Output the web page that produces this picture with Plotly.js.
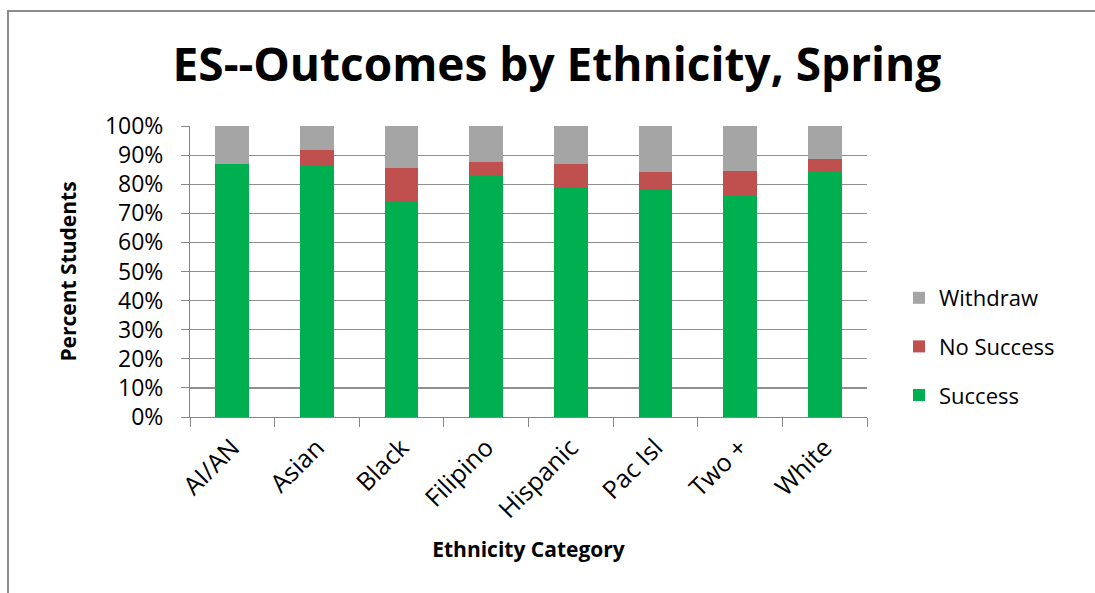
<!DOCTYPE html>
<html>
<head>
<meta charset="utf-8">
<script src="https://cdn.plot.ly/plotly-3.0.1.min.js"></script>
<style>
html,body{margin:0;padding:0;background:#fff;overflow:hidden;}
#wrap{position:relative;width:1095px;height:593px;overflow:hidden;}
#frame{position:absolute;left:7px;top:10px;width:1200px;height:700px;border-left:2px solid #8c8c8c;border-top:2px solid #8c8c8c;}
#chart{position:absolute;left:0;top:0;width:1095px;height:593px;}
</style>
</head>
<body>
<div id="wrap"><div id="frame"></div><div id="chart"></div></div>
<script>
const categories = ["AI/AN", "Asian", "Black", "Filipino", "Hispanic", "Pac Isl", "Two +", "White"];
const success    = [87.1, 86.7, 73.9, 82.8, 79.2, 78.3, 76.1, 84.2];
const noSuccess  = [0.0, 4.9, 11.8, 4.7, 7.8, 6.0, 8.6, 4.6];
const withdraw   = [12.9, 8.4, 14.3, 12.5, 13.0, 15.7, 15.3, 11.2];
const yTickVals  = [0, 10, 20, 30, 40, 50, 60, 70, 80, 90, 100];
const yTickText  = ["0%", "10%", "20%", "30%", "40%", "50%", "60%", "70%", "80%", "90%", "100%"];

const FONT = "Open Sans, Calibri, Carlito, sans-serif";

const traces = [
  {type: "bar", name: "Success", x: categories, y: success, marker: {color: "#00B050"}, legendrank: 3, legendgroup: "s"},
  {type: "bar", name: "No Success", x: categories, y: noSuccess, marker: {color: "#C0504D"}, legendrank: 2, legendgroup: "n"},
  {type: "bar", name: "Withdraw", x: categories, y: withdraw, marker: {color: "#A5A5A5"}, legendrank: 1, legendgroup: "w"}
];

const L = 190, R = 228, T = 126, B = 176;
const W = 1095 - L - R, H = 593 - T - B;
const px = v => (v - L) / W;
const py = v => (593 - B - v) / H;

const layout = {
  width: 1095, height: 593,
  margin: {l: L, r: R, t: T, b: B, pad: 0},
  paper_bgcolor: "rgba(0,0,0,0)", plot_bgcolor: "#fff",
  barmode: "stack",
  bargap: 0.6,
  font: {family: FONT, color: "#000", size: 21},
  title: {
    text: "<b>ES--Outcomes by Ethnicity, Spring</b>",
    font: {family: FONT, size: 46, color: "#000"},
    x: 0.542, xanchor: "center", xref: "paper",
    y: 1 - 65 / 593, yanchor: "middle", yref: "container"
  },
  xaxis: {
    type: "category",
    tickangle: -45,
    tickfont: {family: FONT, size: 25, color: "#000"},
    ticks: "outside", ticklen: 9, tickcolor: "#868686", tickwidth: 1,
    tickson: "boundaries",
    ticklabelstandoff: 5,
    showline: true, linecolor: "#868686", linewidth: 1,
    showgrid: false,
    title: {text: "<b>Ethnicity Category</b>", font: {family: FONT, size: 21, color: "#000"}, standoff: 18}
  },
  yaxis: {
    range: [0, 100],
    tickvals: yTickVals, ticktext: yTickText,
    tickfont: {family: FONT, size: 23, color: "#000"},
    ticks: "outside", ticklen: 8, tickcolor: "#868686", tickwidth: 1,
    ticklabelstandoff: 13,
    showline: true, linecolor: "#868686", linewidth: 1,
    showgrid: true, gridcolor: "#8f8f8f", gridwidth: 1.2,
    zeroline: false,
    title: {text: "<b>Percent Students</b>", font: {family: FONT, size: 21, color: "#000"}, standoff: 22}
  },
  legend: {
    x: px(899), xanchor: "left",
    y: py(277), yanchor: "top",
    traceorder: "grouped",
    tracegroupgap: 17,
    itemwidth: 30,
    font: {family: FONT, size: 22, color: "#000"},
    bgcolor: "rgba(0,0,0,0)"
  },
  showlegend: true
};

Plotly.newPlot("chart", traces, layout, {displayModeBar: false, staticPlot: true});
</script>
</body>
</html>
